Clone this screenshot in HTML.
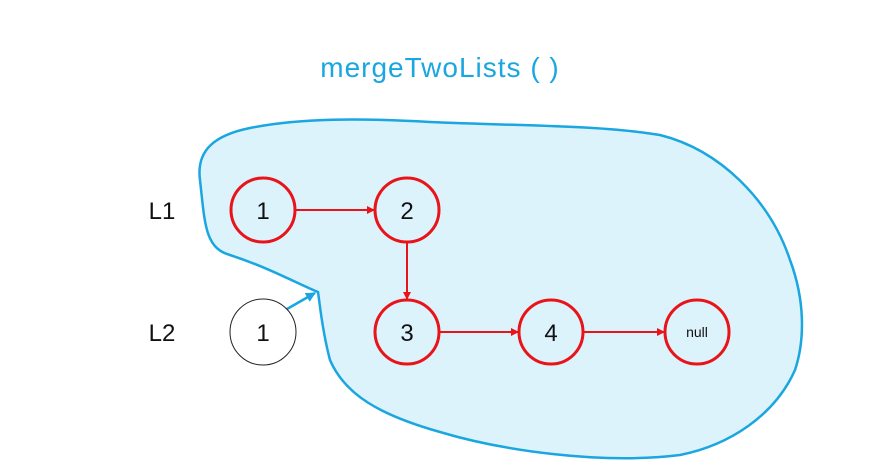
<html><body style="margin:0;background:#fff">
<svg width="871" height="472" xmlns="http://www.w3.org/2000/svg" font-family="Liberation Sans, sans-serif">
<defs><marker id="r" markerWidth="8" markerHeight="8" refX="7" refY="4" orient="auto" markerUnits="userSpaceOnUse"><path d="M0,0L8,4L0,8z" fill="#e8141a"/></marker>
<marker id="b" markerWidth="10" markerHeight="10" refX="9" refY="5" orient="auto" markerUnits="userSpaceOnUse"><path d="M0,0L10,5L0,10z" fill="#1aa6e0"/></marker></defs>
<text x="440" y="77" text-anchor="middle" font-size="28" letter-spacing="1" fill="#1aa6e0">mergeTwoLists ( )</text>
<path d="M200,180 C196,150 215,135 250,128 C300,118 360,118 430,122 C520,126 600,125 660,135 C720,150 770,200 790,260 C805,300 805,340 795,370 C775,415 730,445 680,455 C600,465 500,450 440,432 C380,415 345,395 330,360 C322,330 320,305 318,292 C300,285 270,268 230,255 C205,248 205,225 200,180 Z" fill="#ddf3fc" stroke="#1aa6e0" stroke-width="2.5"/>
<line x1="287" y1="309" x2="315" y2="293" stroke="#1aa6e0" stroke-width="2.5" marker-end="url(#b)"/>
<g stroke="#e8141a" stroke-width="2">
<line x1="296" y1="210" x2="374" y2="210" marker-end="url(#r)"/>
<line x1="407" y1="243" x2="407" y2="299" marker-end="url(#r)"/>
<line x1="440" y1="332" x2="518" y2="332" marker-end="url(#r)"/>
<line x1="584" y1="332" x2="664" y2="332" marker-end="url(#r)"/>
</g>
<g stroke="#e8141a" stroke-width="3" fill="none">
<circle cx="263" cy="210" r="32"/><circle cx="407" cy="210" r="32"/><circle cx="407" cy="332" r="32"/><circle cx="551" cy="332" r="32"/><circle cx="697" cy="332" r="32"/></g>
<circle cx="263" cy="332" r="33" fill="#fff" stroke="#222" stroke-width="1"/>
<g font-size="24" text-anchor="middle" fill="#111">
<text x="263" y="219">1</text><text x="407" y="219">2</text><text x="407" y="341">3</text><text x="551" y="341">4</text><text x="263" y="341">1</text>
<text x="697" y="337" font-size="14">null</text>
<text x="162" y="219">L1</text><text x="162" y="341">L2</text></g>
</svg></body></html>
